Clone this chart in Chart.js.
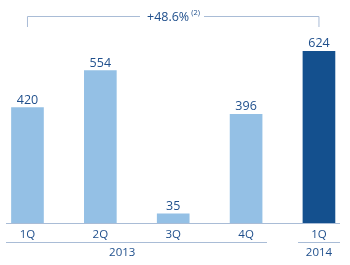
<!DOCTYPE html>
<html>
<head>
<meta charset="utf-8">
<script src="https://cdn.jsdelivr.net/npm/chart.js@4/dist/chart.umd.min.js"></script>
<style>
    html, body { margin: 0; padding: 0; background: #ffffff; }
    #wrap { width: 350px; height: 265px; position: relative; }
</style>
</head>
<body>
<div id="wrap"><canvas id="barChart"></canvas></div>
<script>
// ----------------------
//  DATA
// ----------------------
const quarters = ['1Q', '2Q', '3Q', '4Q', '1Q'];
const values = [420, 554, 35, 396, 624];
const years = ['2013', '2014'];
const yearGroups = [[0, 3], [4, 4]];
const growthLabel = '+48.6%';
const growthNote = '(2)';

// ----------------------
//  COLOURS
// ----------------------
const lightBlue = '#94c0e5';
const darkBlue = '#14508e';
const textBlue = '#1f4f8c';
const lineGrey = '#a9bcd6';
const fontFamily = '"Open Sans", sans-serif';

const barColors = values.map((v, i) => i === values.length - 1 ? darkBlue : lightBlue);

// ----------------------
//  PLUGIN: labels, axis, brackets
// ----------------------
const decorations = {
    id: 'decorations',
    afterDatasetsDraw(chart) {
        const ctx = chart.ctx;
        const x = chart.scales.x;
        const area = chart.chartArea;
        const meta = chart.getDatasetMeta(0);
        const base = area.bottom;

        ctx.save();

        // baseline
        ctx.strokeStyle = lineGrey;
        ctx.lineWidth = 1.2;
        ctx.beginPath();
        ctx.moveTo(6, base);
        ctx.lineTo(340, base);
        ctx.stroke();

        // value labels
        ctx.fillStyle = textBlue;
        ctx.textAlign = 'center';
        ctx.textBaseline = 'alphabetic';
        ctx.font = '12.5px ' + fontFamily;
        meta.data.forEach((bar, i) => {
            ctx.fillText(values[i], bar.x, bar.y - 4);
        });

        // category labels
        ctx.font = '11.5px ' + fontFamily;
        quarters.forEach((q, i) => {
            ctx.fillText(q, x.getPixelForValue(i), 238);
        });

        // year underlines and labels
        ctx.lineWidth = 1;
        const yearLines = [[6, 267], [298, 340]];
        const yearCenters = [x.getPixelForValue(1.3), x.getPixelForValue(4)];
        years.forEach((yr, k) => {
            ctx.beginPath();
            ctx.moveTo(yearLines[k][0], 242.5);
            ctx.lineTo(yearLines[k][1], 242.5);
            ctx.stroke();
            ctx.fillText(yr, yearCenters[k], 255.5);
        });

        // growth bracket
        const x0 = x.getPixelForValue(0);
        const x1 = x.getPixelForValue(values.length - 1);
        const top = 16.5;
        ctx.strokeStyle = lineGrey;
        ctx.lineWidth = 1;
        ctx.beginPath();
        ctx.moveTo(x0, 27);
        ctx.lineTo(x0, top);
        ctx.lineTo(140, top);
        ctx.moveTo(204, top);
        ctx.lineTo(x1, top);
        ctx.lineTo(x1, 27);
        ctx.stroke();

        ctx.font = '12.5px ' + fontFamily;
        ctx.textAlign = 'left';
        ctx.fillText(growthLabel, 147, 21);
        const w = ctx.measureText(growthLabel).width;
        ctx.font = '7.5px ' + fontFamily;
        ctx.fillText(growthNote, 147 + w + 2, 15);

        ctx.restore();
    }
};

// ----------------------
//  CHART
// ----------------------
const ctx = document.getElementById('barChart').getContext('2d');
const barChart = new Chart(ctx, {
    type: 'bar',
    data: {
        labels: quarters,
        datasets: [{
            data: values.map((v, i) => ({ x: i, y: v })),
            backgroundColor: barColors,
            borderWidth: 0,
            barThickness: 32,
        }]
    },
    options: {
        responsive: true,
        maintainAspectRatio: false,
        animation: false,
        layout: {
            padding: { left: 0, right: 0, top: 0, bottom: 41.5 }
        },
        plugins: {
            legend: { display: false },
            tooltip: { enabled: false },
        },
        scales: {
            x: {
                type: 'linear',
                offset: false,
                min: -0.377,
                max: 4.426,
                display: false,
                grid: { display: false },
            },
            y: {
                min: 0,
                max: 810,
                display: false,
                grid: { display: false },
            }
        }
    },
    plugins: [decorations]
});
</script>
</body>
</html>
